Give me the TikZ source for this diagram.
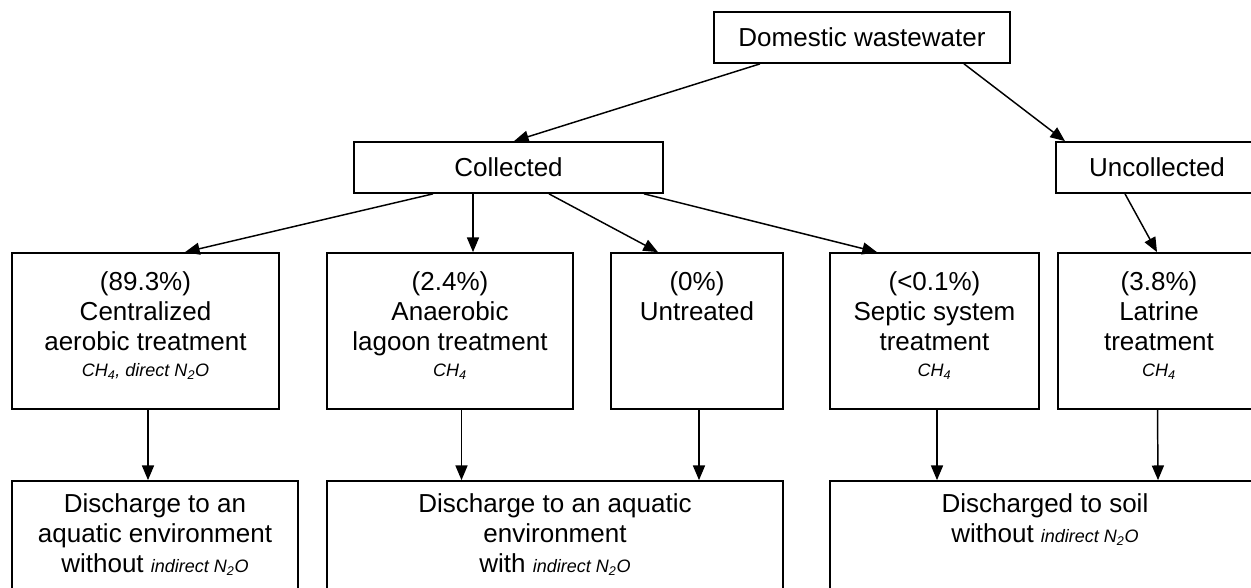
\documentclass[tikz,border=0pt]{standalone}
\usepackage{fontspec}
\setmainfont{Liberation Sans}
\usetikzlibrary{arrows.meta,positioning,calc}
\newcommand{\gas}[1]{{\fontsize{13.5}{15}\selectfont\itshape #1}}

\begin{document}
\begin{tikzpicture}[x=0.75pt,y=-0.75pt,
    box/.style={draw,line width=1.3pt,inner sep=0pt,minimum height=38.25pt,
        font=\fontsize{19.5}{22.5}\selectfont},
    tall/.style={draw,line width=1.3pt,inner sep=0pt,minimum height=117pt},
    low/.style={draw,line width=1.3pt,inner sep=0pt,minimum height=105pt},
    txt/.style={align=center,inner sep=0pt,font=\fontsize{19.5}{22.5}\selectfont},
    arr/.style={line width=1.1pt,-{Triangle[length=11pt,width=9pt]}}]
            \useasboundingbox (0,0) rectangle (1251,588);
            \fill[white] (0,0) rectangle (1251,588);
            \clip (0,0) rectangle (1251,588);
            % top levels
            \node[box,minimum width=222pt] (dom) at (862,37.5) {Domestic wastewater};
            \node[box,minimum width=231.75pt] (coll) at (508.5,167.5) {Collected};
            \node[box,minimum width=151.5pt] (uncoll) at (1157,167.5) {Uncollected};
            % treatment boxes
            \node[tall,minimum width=200.25pt] (cat) at (145.5,331) {};
            \node[tall,minimum width=184.5pt] (alt) at (450,331) {};
            \node[tall,minimum width=129pt] (unt) at (697,331) {};
            \node[tall,minimum width=156.75pt] (sep) at (934.5,331) {};
            \node[tall,minimum width=151.5pt] (lat) at (1159,331) {};
            \node[txt,below=14.25pt of cat.north] (catT) {(89.3\%)\\Centralized\\aerobic treatment\\[-3pt]\gas{CH\textsubscript{4}, direct N\textsubscript{2}O}};
            \node[txt,below=14.25pt of alt.north] (altT) {(2.4\%)\\Anaerobic\\lagoon treatment\\[-3pt]\gas{CH\textsubscript{4}}};
            \node[txt,below=14.25pt of unt.north] (untT) {(0\%)\\Untreated};
            \node[txt,below=14.25pt of sep.north] (sepT) {(<0.1\%)\\Septic system\\treatment\\[-3pt]\gas{CH\textsubscript{4}}};
            \node[txt,below=14.25pt of lat.north] (latT) {(3.8\%)\\Latrine\\treatment\\[-3pt]\gas{CH\textsubscript{4}}};
            % discharge boxes
            \node[low,minimum width=214.5pt] (dis1) at (155,551) {};
            \node[low,minimum width=342pt] (dis2) at (555,551) {};
            \node[low,minimum width=322.5pt] (dis3) at (1045,551) {};
            \node[txt,below=9.75pt of dis1.north] (dis1T) {Discharge to an\\aquatic environment\\without \gas{indirect N\textsubscript{2}O}};
            \node[txt,below=9.75pt of dis2.north] (dis2T) {Discharge to an aquatic\\environment\\with \gas{indirect N\textsubscript{2}O}};
            \node[txt,below=9.75pt of dis3.north] (dis3T) {Discharged to soil\\without \gas{indirect N\textsubscript{2}O}};
            % arrows
            \draw[arr] ($(dom.south)+(-102,0)$) -- ($(coll.north)+(5.5,0)$);
            \draw[arr] ($(dom.south)+(102,0)$) -- ($(uncoll.north)+(-92,0)$);
            \draw[arr] ($(coll.south)+(-75.5,0)$) -- ($(cat.north)+(39.5,0)$);
            \draw[arr] ($(coll.south)+(-35.5,0)$) -- ($(alt.north)+(23,0)$);
            \draw[arr] ($(coll.south)+(40.5,0)$) -- ($(unt.north)+(-39,0)$);
            \draw[arr] ($(coll.south)+(135.5,0)$) -- ($(sep.north)+(-57.5,0)$);
            \draw[arr] ($(uncoll.south)+(-32,0)$) -- ($(lat.north)+(-2,0)$);
            \draw[arr] ($(cat.south)+(2.5,0)$) -- ($(dis1.north)+(-7,0)$);
            \draw[arr] ($(alt.south)+(11.5,0)$) -- ($(dis2.north)+(-93.5,0)$);
            \draw[arr] ($(unt.south)+(2,0)$) -- ($(dis2.north)+(144,0)$);
            \draw[arr] ($(sep.south)+(2.5,0)$) -- ($(dis3.north)+(-108,0)$);
            \draw[arr] ($(lat.south)+(-1.5,0)$) -- ($(dis3.north)+(113,0)$);
\end{tikzpicture}
\end{document}
